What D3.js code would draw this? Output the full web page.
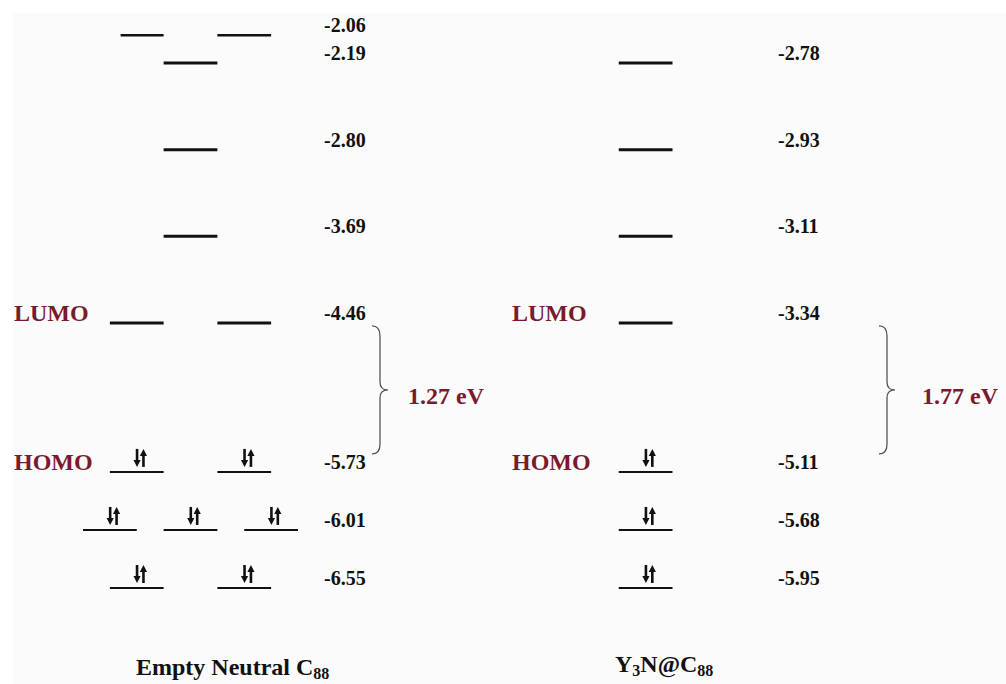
<!DOCTYPE html>
<html>
<head>
<meta charset="utf-8">
<script src="https://cdn.jsdelivr.net/npm/d3@7/dist/d3.min.js"></script>
<style>
  html, body { margin: 0; padding: 0; background: #ffffff; }
  svg { display: block; }
  text { font-family: "Liberation Serif", "Times New Roman", serif; font-weight: bold; }
</style>
</head>
<body>
<svg id="chart" width="1006" height="684"></svg>
<script>
// ---- Orbital energies (eV) ----
const emptyEnergies   = [-2.06, -2.19, -2.80, -3.69, -4.46, -5.73, -6.01, -6.55];
const emptyRows       = [-0.32, 0, 1, 2, 3, 4.72, 5.39, 6.06];   // schematic level rank
const emptyOccupied   = [false, false, false, false, false, true, true, true];
// degenerate sub-levels, as [start, end] spans in column units
const emptySpans = [
  [[1.4, 3], [5, 7]],
  [[3, 5]],
  [[3, 5]],
  [[3, 5]],
  [[1, 3], [5, 7]],
  [[1, 3], [5, 7]],
  [[0, 2], [3, 5], [6, 8]],
  [[1, 3], [5, 7]]
];

const y3nEnergies = [-2.78, -2.93, -3.11, -3.34, -5.11, -5.68, -5.95];
const y3nRows     = [0, 1, 2, 3, 4.72, 5.39, 6.06];
const y3nOccupied = [false, false, false, false, true, true, true];
const y3nSpans    = y3nEnergies.map(() => [[2, 4]]);

const frontierLabels = ["LUMO", "HOMO"];
const panelTitles = [
  { main: "Empty Neutral C", sub: "88" },
  { parts: [["Y", false], ["3", true], ["N@C", false], ["88", true]] }
];

const svg = d3.select("#chart");
const W = 1006, H = 684;
const accent = "#7a1a2c";

// light panel backdrop
svg.append("rect").attr("x", 13).attr("y", 13).attr("width", W - 13).attr("height", H - 13)
  .attr("fill", "#fbfbfb");

// shared vertical scale: schematic rank -> pixel
const y = d3.scaleLinear().domain([0, 6.06]).range([63, 588]);

function drawPanel(cfg) {
  const g = svg.append("g");
  const x = d3.scaleLinear().domain([0, 8]).range(cfg.xRange);
  const levels = cfg.energies.map((e, i) => ({
    e, row: cfg.rows[i], occ: cfg.occupied[i], spans: cfg.spans[i]
  }));

  // level bars
  levels.forEach(lv => {
    lv.spans.forEach(s => {
      g.append("line")
        .attr("x1", x(s[0])).attr("x2", x(s[1]))
        .attr("y1", y(lv.row)).attr("y2", y(lv.row))
        .attr("stroke", "#111")
        .attr("stroke-width", lv.occ ? 2 : (lv.row < 0 ? 2.5 : 3));
      if (lv.occ) drawPair(g, (x(s[0]) + x(s[1])) / 2 + 3.5, y(lv.row));
    });
    // energy value
    g.append("text")
      .attr("x", cfg.valueX).attr("y", y(lv.row) - 3)
      .attr("font-size", 20).attr("fill", "#111")
      .text(lv.e.toFixed(2));
  });

  // frontier orbital labels
  const lumo = levels.filter(l => !l.occ).slice(-1)[0];
  const homo = levels.filter(l => l.occ)[0];
  [lumo, homo].forEach((lv, i) => {
    g.append("text")
      .attr("x", cfg.tagX).attr("y", y(lv.row) - 2)
      .attr("font-size", 24).attr("fill", accent)
      .text(frontierLabels[i]);
  });

  // brace spanning the gap
  const top = y(lumo.row) + 3, bot = y(homo.row) - 18;
  const mid = (top + bot) / 2;
  const bx = cfg.braceX, bw = 8;
  const path = d3.path();
  path.moveTo(bx, top);
  path.quadraticCurveTo(bx + bw, top, bx + bw, top + 10);
  path.lineTo(bx + bw, mid - 8);
  path.quadraticCurveTo(bx + bw, mid, bx + bw * 2, mid);
  path.quadraticCurveTo(bx + bw, mid, bx + bw, mid + 8);
  path.lineTo(bx + bw, bot - 10);
  path.quadraticCurveTo(bx + bw, bot, bx, bot);
  g.append("path").attr("d", path.toString())
    .attr("fill", "none").attr("stroke", "#555").attr("stroke-width", 1.3);

  const gap = (lumo.e - homo.e).toFixed(2);
  g.append("text")
    .attr("x", cfg.gapX).attr("y", mid + 14)
    .attr("font-size", 24).attr("fill", accent)
    .text(gap + " eV");
  return g;
}

// electron pair: spin-down arrow on the left, spin-up arrow on the right
function drawPair(g, cx, baseY) {
  const top = baseY - 23, bot = baseY - 5;
  const xl = cx - 3.2, xr = cx + 3.2;
  g.append("line").attr("x1", xl).attr("x2", xl).attr("y1", top).attr("y2", bot - 4)
    .attr("stroke", "#111").attr("stroke-width", 2.6);
  g.append("path").attr("d", `M${xl - 3.6},${bot - 7}L${xl + 3.6},${bot - 7}L${xl},${bot}Z`).attr("fill", "#111");
  g.append("line").attr("x1", xr).attr("x2", xr).attr("y1", top + 4).attr("y2", bot)
    .attr("stroke", "#111").attr("stroke-width", 2.6);
  g.append("path").attr("d", `M${xr - 3.6},${top + 7}L${xr + 3.6},${top + 7}L${xr},${top}Z`).attr("fill", "#111");
}

drawPanel({
  energies: emptyEnergies, rows: emptyRows, occupied: emptyOccupied, spans: emptySpans,
  xRange: [83, 298], valueX: 324, tagX: 14, braceX: 372, gapX: 408
});
drawPanel({
  energies: y3nEnergies, rows: y3nRows, occupied: y3nOccupied, spans: y3nSpans,
  xRange: [565, 780], valueX: 778, tagX: 512, braceX: 879, gapX: 922
});

// panel titles
const t1 = svg.append("text").attr("x", 136).attr("y", 675).attr("font-size", 24).attr("fill", "#111");
t1.append("tspan").text(panelTitles[0].main);
t1.append("tspan").attr("font-size", 16).attr("dy", 4).text(panelTitles[0].sub);

const t2 = svg.append("text").attr("x", 615).attr("y", 672).attr("font-size", 24).attr("fill", "#111");
let shifted = false;
panelTitles[1].parts.forEach(([s, isSub]) => {
  const ts = t2.append("tspan").text(s);
  if (isSub && !shifted) { ts.attr("font-size", 16).attr("dy", 4); shifted = true; }
  else if (!isSub && shifted) { ts.attr("dy", -4); shifted = false; }
  else if (isSub) ts.attr("font-size", 16);
});
</script>
</body>
</html>
